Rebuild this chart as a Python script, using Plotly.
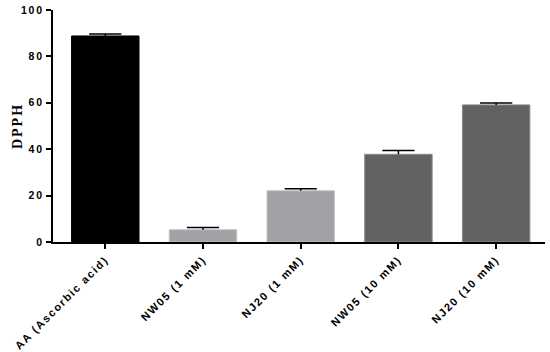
import plotly.graph_objects as go

categories = ["AA (Ascorbic acid)", "NW05 (1 mM)", "NJ20 (1 mM)", "NW05 (10 mM)", "NJ20 (10 mM)"]
values = [88.8, 5.3, 22.1, 37.8, 59.1]
errors = [0.9, 0.9, 0.9, 1.6, 0.8]
colors = ["#000000", "#a2a1a6", "#a2a1a6", "#626262", "#626262"]
outline = ["#000000", "#c4c4c6", "#c4c4c6", "#8a8a8a", "#8a8a8a"]
y_ticks = [0, 20, 40, 60, 80, 100]

xs = list(range(len(categories)))
cap = 0.165

# error whiskers (upper only) built from the data arrays
ex, ey = [], []
for i, (v, e) in enumerate(zip(values, errors)):
    ex += [i, i, None, i - cap, i + cap, None]
    ey += [v, v + e, None, v + e, v + e, None]

fig = go.Figure()
fig.add_trace(go.Bar(
    x=xs, y=values,
    marker=dict(color=colors, line=dict(color=outline, width=1)),
    width=0.69, hoverinfo="skip",
))
fig.add_trace(go.Scatter(
    x=ex, y=ey, mode="lines", line=dict(color="#000000", width=1.5),
    hoverinfo="skip", cliponaxis=False,
))
fig.update_layout(
    width=550, height=352,
    margin=dict(l=53, r=5, t=10, b=110),
    plot_bgcolor="white", paper_bgcolor="white",
    showlegend=False,
    font=dict(family="Liberation Sans", color="#000000"),
)
fig.update_xaxes(
    range=[-0.535, 4.5], automargin=False,
    tickmode="array", tickvals=xs, ticktext=categories,
    tickangle=-45, tickfont=dict(size=11, family="Liberation Sans", weight="bold"),
    showline=True, linecolor="#000000", linewidth=2,
    ticks="outside", ticklen=5, tickwidth=2, tickcolor="#000000",
    showgrid=False, zeroline=False,
)
fig.update_yaxes(
    range=[0, 100], automargin=False,
    tickmode="array", tickvals=y_ticks,
    tickfont=dict(size=10.5, family="Liberation Sans", weight="bold"),
    showline=True, linecolor="#000000", linewidth=2,
    ticks="outside", ticklen=5, tickwidth=2, tickcolor="#000000",
    showgrid=False, zeroline=False,
    title=dict(text="DPPH", font=dict(size=14, family="Liberation Serif", weight="bold"), standoff=0),
)

post = """
document.body.style.margin = '0';
var st = document.createElement('style');
st.textContent = 'body{margin:0;} .xtick text{letter-spacing:1.6px;} .ytick text{letter-spacing:1.8px;} .g-ytitle text{letter-spacing:2px;}';
document.head.appendChild(st);
"""
fig.write_html("out.html", post_script=post, config={"displayModeBar": False})
